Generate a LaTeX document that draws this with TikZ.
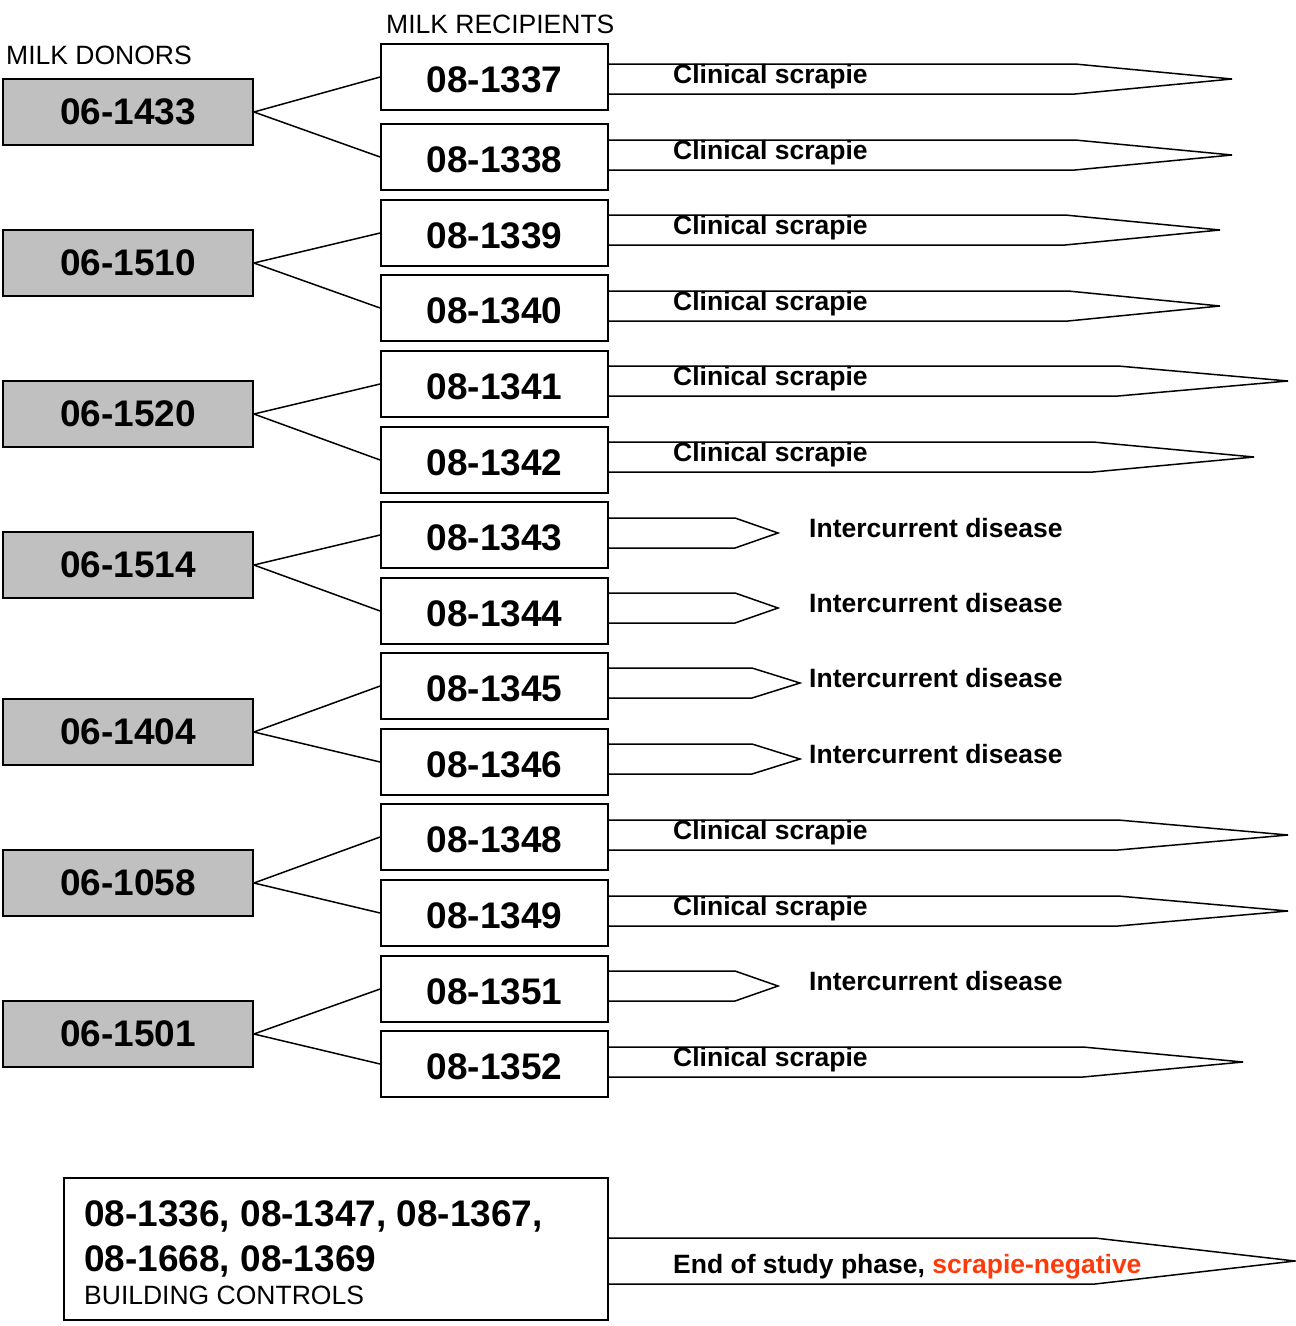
\documentclass[tikz,border=0pt]{standalone}
\usepackage{fontspec}
\setmainfont{Liberation Sans}
\definecolor{donorgray}{HTML}{C0C0C0}
\definecolor{negred}{HTML}{FF3A0A}
\tikzset{
  donor/.style={draw, line width=1.8pt, fill=donorgray, minimum width=250pt, minimum height=66pt, inner sep=0pt,
    font=\fontsize{37}{40}\selectfont\bfseries},
  recip/.style={draw, line width=1.8pt, fill=white, minimum width=227pt, minimum height=66pt, inner sep=0pt,
    text height=31pt, text depth=0pt, font=\fontsize{37}{40}\selectfont\bfseries},
  link/.style={line width=1.5pt},
  arrline/.style={line width=1.5pt, line join=miter},
  lbl/.style={anchor=base west, inner sep=0pt, font=\fontsize{26.5}{29}\selectfont\bfseries},
  hdr/.style={anchor=base west, inner sep=0pt, font=\fontsize{26.5}{29}\selectfont},
}
\newcommand\outarr[4]{% #1 node, #2 band top y, #3 body end x, #4 tip x
  \draw[arrline] (#1.east |- 0,#2) -- (#3,#2) -- (#4,#2+15) -- (#3,#2+30) -- (#1.east |- 0,#2+30);}
\begin{document}
\begin{tikzpicture}[x=1pt,y=-1pt]
\useasboundingbox (0,0) rectangle (1296,1326);
% headers
\node[hdr] (hd) at (6,64) {MILK DONORS};
\node[hdr] (hr) at (386,33) {MILK RECIPIENTS};
% donors
\node[donor] (d1) at (128,112) {06-1433};
\node[donor] (d2) at (128,263) {06-1510};
\node[donor] (d3) at (128,414) {06-1520};
\node[donor] (d4) at (128,565) {06-1514};
\node[donor] (d5) at (128,732) {06-1404};
\node[donor] (d6) at (128,883) {06-1058};
\node[donor] (d7) at (128,1034) {06-1501};
% recipients
\node[recip] (r1) at (494.5,77) {08-1337};
\node[recip] (r2) at (494.5,157) {08-1338};
\node[recip] (r3) at (494.5,233) {08-1339};
\node[recip] (r4) at (494.5,308) {08-1340};
\node[recip] (r5) at (494.5,384) {08-1341};
\node[recip] (r6) at (494.5,460) {08-1342};
\node[recip] (r7) at (494.5,535) {08-1343};
\node[recip] (r8) at (494.5,611) {08-1344};
\node[recip] (r9) at (494.5,686) {08-1345};
\node[recip] (r10) at (494.5,762) {08-1346};
\node[recip] (r11) at (494.5,837) {08-1348};
\node[recip] (r12) at (494.5,913) {08-1349};
\node[recip] (r13) at (494.5,989) {08-1351};
\node[recip] (r14) at (494.5,1064) {08-1352};
% links
\draw[link] (d1.east) -- (r1.west);
\draw[link] (d1.east) -- (r2.west);
\draw[link] (d2.east) -- (r3.west);
\draw[link] (d2.east) -- (r4.west);
\draw[link] (d3.east) -- (r5.west);
\draw[link] (d3.east) -- (r6.west);
\draw[link] (d4.east) -- (r7.west);
\draw[link] (d4.east) -- (r8.west);
\draw[link] (d5.east) -- (r9.west);
\draw[link] (d5.east) -- (r10.west);
\draw[link] (d6.east) -- (r11.west);
\draw[link] (d6.east) -- (r12.west);
\draw[link] (d7.east) -- (r13.west);
\draw[link] (d7.east) -- (r14.west);
% outcome arrows
\outarr{r1}{64}{1075}{1232}
\outarr{r2}{140}{1075}{1232}
\outarr{r3}{215}{1065}{1220}
\outarr{r4}{291}{1068}{1220}
\outarr{r5}{366}{1118}{1288}
\outarr{r6}{442}{1093}{1254}
\outarr{r7}{518}{735}{778}
\outarr{r8}{593}{735}{778}
\outarr{r9}{668}{752}{800}
\outarr{r10}{744}{752}{800}
\outarr{r11}{820}{1118}{1288}
\outarr{r12}{896}{1118}{1288}
\outarr{r13}{971}{735}{778}
\outarr{r14}{1047}{1083}{1243}
% outcome labels
\node[lbl] (o1) at (673,83) {Clinical scrapie};
\node[lbl] (o2) at (673,159) {Clinical scrapie};
\node[lbl] (o3) at (673,234) {Clinical scrapie};
\node[lbl] (o4) at (673,310) {Clinical scrapie};
\node[lbl] (o5) at (673,385) {Clinical scrapie};
\node[lbl] (o6) at (673,461) {Clinical scrapie};
\node[lbl] (o7) at (809,537) {Intercurrent disease};
\node[lbl] (o8) at (809,612) {Intercurrent disease};
\node[lbl] (o9) at (809,687) {Intercurrent disease};
\node[lbl] (o10) at (809,763) {Intercurrent disease};
\node[lbl] (o11) at (673,839) {Clinical scrapie};
\node[lbl] (o12) at (673,915) {Clinical scrapie};
\node[lbl] (o13) at (809,990) {Intercurrent disease};
\node[lbl] (o14) at (673,1066) {Clinical scrapie};
% building controls
\node[draw, line width=1.8pt, minimum width=544pt, minimum height=142pt, inner sep=0pt] (ctrl) at (336,1249) {};
\node[anchor=base west, inner sep=0pt, font=\fontsize{37}{40}\selectfont\bfseries] (c1) at (84,1226) {08-1336, 08-1347, 08-1367,};
\node[anchor=base west, inner sep=0pt, font=\fontsize{37}{40}\selectfont\bfseries] (c2) at (84,1271) {08-1668, 08-1369};
\node[hdr] (c3) at (84,1304) {BUILDING CONTROLS};
\draw[arrline] (ctrl.east |- 0,1238) -- (1095,1238) -- (1295,1261) -- (1095,1284) -- (ctrl.east |- 0,1284);
\node[lbl] (oc) at (673,1273) {End of study phase, \textcolor{negred}{scrapie-negative}};
\end{tikzpicture}
\end{document}
